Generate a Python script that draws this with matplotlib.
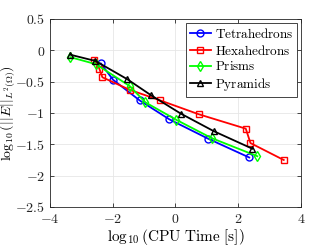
import matplotlib
matplotlib.use("Agg")
import matplotlib.pyplot as plt
from matplotlib.ticker import FuncFormatter

plt.rcParams['mathtext.fontset'] = 'cm'
plt.rcParams['font.family'] = 'serif'
plt.rcParams['font.serif'] = ['DejaVu Serif']

# log10(CPU time), log10(error)
tet_x = [-2.38, -1.99, -1.14, -0.20, 1.04, 2.35]
tet_y = [-0.21, -0.47, -0.80, -1.10, -1.41, -1.71]

hex_x = [-2.59, -2.43, -2.33, -1.46, -0.48, 0.74, 2.24, 2.39, 3.45]
hex_y = [-0.15, -0.29, -0.43, -0.63, -0.80, -1.02, -1.25, -1.48, -1.75]

pri_x = [-3.35, -2.54, -1.46, -0.96, 0.03, 1.15, 2.61]
pri_y = [-0.11, -0.22, -0.57, -0.83, -1.11, -1.40, -1.69]

pyr_x = [-3.35, -2.55, -1.54, -0.77, 0.17, 1.22, 2.45]
pyr_y = [-0.07, -0.17, -0.46, -0.72, -1.01, -1.29, -1.57]

names = ['Tetrahedrons', 'Hexahedrons', 'Prisms', 'Pyramids']
xticks = [-4, -2, 0, 2, 4]
yticks = [0.5, 0, -0.5, -1, -1.5, -2, -2.5]

fig = plt.figure(figsize=(3.32, 2.49), dpi=100)
ax = fig.add_axes([0.1506, 0.1687, 0.756, 0.755])

series = [(tet_x, tet_y, 'b', 'o'), (hex_x, hex_y, 'r', 's'),
          (pri_x, pri_y, (0, 1, 0), 'd'), (pyr_x, pyr_y, 'k', '^')]
for (x, y, c, m), n in zip(series, names):
    ax.plot(x, y, color=c, marker=m, markersize=5, markerfacecolor='none',
            markeredgecolor=c, markeredgewidth=1.0, linewidth=1.3,
            label=r'$\mathrm{%s}$' % n)

ax.set_xlim(-4, 4)
ax.set_ylim(-2.5, 0.5)
ax.set_xticks(xticks)
ax.set_yticks(yticks)
fmt = FuncFormatter(lambda v, p: r'$%g$' % v if v != 0 else r'$0$')
ax.xaxis.set_major_formatter(fmt)
ax.yaxis.set_major_formatter(fmt)
ax.tick_params(direction='in', length=3, width=0.6, colors='0.15',
               labelsize=10, top=True, right=True)
for s in ax.spines.values():
    s.set_color('0.15')
    s.set_linewidth(0.6)
ax.grid(True, color='0.9', linewidth=0.6)
ax.set_axisbelow(True)

ax.set_xlabel(r'$\log_{10}(\mathrm{CPU\ Time\ [s]})$', fontsize=11, labelpad=1)
ax.set_ylabel(r'$\log_{10}(||E||_{L^2(\Omega)})$', fontsize=10)
ax.yaxis.set_label_coords(-0.13, 0.5)

leg = ax.legend(loc='upper right', fontsize=9.5, handlelength=1.6,
                borderpad=0.3, labelspacing=0.2, handletextpad=0.3,
                fancybox=False, framealpha=1, borderaxespad=0.3)
leg.get_frame().set_edgecolor('0.15')
leg.get_frame().set_linewidth(0.6)

fig.savefig('out.png', dpi=100)
